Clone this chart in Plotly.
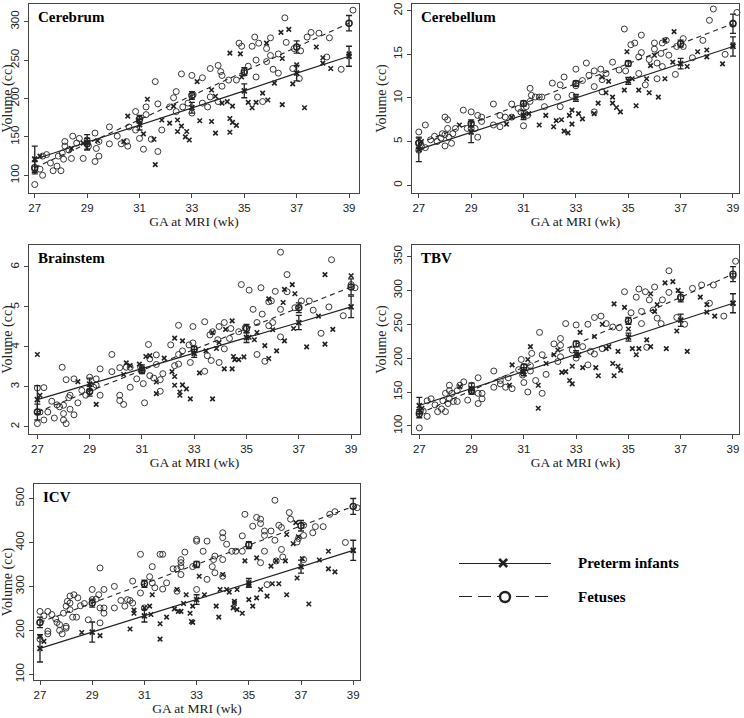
import plotly.graph_objects as go

# ---------------- data ----------------
weeks = [27, 29, 31, 33, 35, 37, 39]
x_ticks = [27, 29, 31, 33, 35, 37, 39]

# Cerebrum
cerebrum_fetus = [(27.0, 88), (27.0, 108), (27.2, 108), (27.3, 100), (27.3, 125), (27.45, 127), (27.6, 116),
    (27.7, 106), (27.85, 112), (27.9, 125), (28.0, 106), (28.05, 129), (28.15, 144), (28.15, 138), (28.1, 121),
    (28.3, 133), (28.4, 122), (28.45, 151), (28.6, 142), (28.7, 148), (28.85, 122), (29.0, 146), (29.05, 138),
    (29.3, 155), (29.3, 118), (29.35, 135), (29.45, 125), (29.45, 144), (29.85, 163), (29.85, 141), (30.15, 151),
    (30.3, 141), (30.5, 144), (30.55, 138), (30.6, 163), (30.85, 183), (30.85, 159), (31.0, 148), (31.15, 134),
    (31.25, 189), (31.25, 179), (31.45, 147), (31.6, 222), (31.7, 193), (31.7, 131), (31.85, 159), (32.15, 189),
    (32.3, 201), (32.4, 209), (32.4, 183), (32.6, 232), (32.65, 189), (32.85, 194), (33.0, 230), (33.0, 181),
    (33.05, 205), (33.4, 227), (33.4, 194), (33.6, 189), (33.7, 202), (33.7, 239), (34.0, 243), (34.0, 196),
    (34.1, 235), (34.15, 216), (34.15, 230), (34.4, 224), (34.7, 224), (34.8, 272), (34.9, 268), (35.0, 233),
    (35.15, 242), (35.3, 268), (35.4, 280), (35.45, 250), (35.55, 272), (35.45, 228), (35.7, 196), (35.85, 248),
    (35.85, 265), (36.0, 279), (36.0, 256), (36.1, 238), (36.3, 258), (36.3, 233), (36.55, 305), (36.6, 273),
    (36.85, 239), (36.9, 265), (37.1, 226), (37.15, 262), (37.4, 280), (37.55, 286), (37.85, 285), (38.15, 254),
    (38.25, 279), (38.7, 238), (39.15, 315), (39.0, 298)]
cerebrum_preterm = [(27.0, 121), (27.2, 125), (28.4, 135), (28.85, 142), (29.4, 145), (30.4, 144), (30.55, 177),
    (30.95, 172), (31.15, 154), (31.3, 199), (31.55, 147), (31.6, 114), (31.85, 172), (32.15, 168), (32.3, 190),
    (32.45, 172), (32.45, 157), (32.6, 164), (32.75, 150), (32.8, 157), (32.9, 146), (33.2, 222), (33.3, 171),
    (33.75, 211), (33.75, 170), (33.9, 203), (33.9, 155), (34.15, 194), (34.35, 196), (34.45, 259), (34.45, 174),
    (34.45, 156), (34.55, 190), (34.55, 169), (34.7, 165), (34.85, 258), (34.9, 228), (35.15, 195), (35.3, 188),
    (35.45, 195), (35.7, 207), (35.85, 272), (35.9, 198), (36.15, 220), (36.4, 286), (36.45, 252), (36.45, 192),
    (36.7, 290), (36.85, 219), (37.0, 244), (37.3, 188), (37.75, 267), (38.0, 246), (38.0, 253), (38.3, 239),
    (39.0, 258)]
cerebrum_preterm_fit = [121, 143, 166, 188, 210, 233, 255]
cerebrum_preterm_se = [17, 10, 7, 7, 9, 10, 13]
cerebrum_fetus_fit = [110, 141, 173, 204, 235, 267, 298]
cerebrum_fetus_se = [8, 7, 5, 5, 5, 8, 10]
cerebrum_y_ticks = [100, 150, 200, 250, 300]

# Cerebellum
cerebellum_fetus = [(27.0, 6.1), (27.0, 4.9), (27.0, 4.0), (27.1, 4.4), (27.25, 4.3), (27.25, 6.9), (27.45, 5.2),
    (27.6, 5.6), (27.7, 5.0), (27.85, 5.4), (27.9, 5.9), (28.0, 7.8), (28.0, 4.5), (28.0, 5.8), (28.1, 7.5),
    (28.1, 6.5), (28.15, 5.5), (28.25, 4.8), (28.3, 5.9), (28.4, 6.5), (28.7, 8.6), (28.85, 6.5), (29.0, 8.4),
    (29.0, 6.5), (29.15, 6.5), (29.25, 8.0), (29.25, 5.5), (29.4, 7.8), (29.4, 7.3), (29.85, 9.3), (29.85, 6.9),
    (30.1, 8.0), (30.1, 6.7), (30.3, 7.8), (30.55, 9.3), (30.55, 7.8), (30.8, 8.8), (30.9, 8.4), (31.0, 6.8),
    (31.1, 9.0), (31.15, 8.0), (31.25, 11.1), (31.25, 9.6), (31.3, 10.3), (31.45, 10.1), (31.6, 10.1),
    (31.7, 10.1), (31.8, 9.0), (32.1, 11.7), (32.3, 10.1), (32.4, 11.5), (32.4, 9.0), (32.55, 12.4),
    (32.85, 10.3), (33.0, 13.3), (33.0, 11.4), (33.25, 12.0), (33.4, 14.0), (33.5, 12.6), (33.7, 13.1),
    (33.7, 8.4), (33.7, 11.3), (33.95, 13.3), (34.0, 12.1), (34.0, 10.7), (34.15, 12.8), (34.4, 14.1),
    (34.65, 13.2), (34.85, 17.9), (34.9, 13.1), (35.1, 16.1), (35.25, 16.3), (35.4, 12.8), (35.4, 14.7),
    (35.5, 15.2), (35.5, 17.2), (35.65, 11.5), (35.8, 14.4), (36.0, 16.3), (36.0, 15.6), (36.1, 14.0),
    (36.1, 12.2), (36.25, 15.1), (36.3, 13.6), (36.3, 16.3), (36.45, 16.6), (36.55, 14.9), (36.8, 12.7),
    (36.85, 15.9), (37.1, 16.8), (37.1, 15.9), (37.45, 14.6), (37.85, 16.6), (38.1, 18.9), (38.25, 20.2),
    (38.7, 15.0), (39.0, 18.6), (39.15, 19.8)]
cerebellum_preterm = [(27.1, 5.0), (28.55, 6.9), (30.35, 7.0), (30.55, 7.8), (31.0, 7.9), (31.2, 8.2),
    (31.6, 6.9), (31.85, 8.0), (32.15, 6.7), (32.25, 7.4), (32.45, 7.5), (32.55, 6.2), (32.7, 6.0), (32.75, 8.0),
    (32.85, 7.0), (32.85, 8.6), (33.1, 8.2), (33.25, 7.6), (33.7, 8.2), (33.85, 9.4), (34.0, 12.4), (34.15, 10.6),
    (34.25, 11.9), (34.4, 10.1), (34.4, 9.4), (34.55, 8.9), (34.7, 8.4), (34.85, 10.9), (34.95, 15.3),
    (35.15, 12.2), (35.3, 9.1), (35.4, 10.9), (35.7, 12.2), (35.8, 10.6), (35.85, 13.7), (36.0, 14.9),
    (36.15, 10.1), (36.4, 16.6), (36.4, 12.2), (36.7, 14.1), (36.75, 17.6), (37.25, 13.6), (37.65, 15.3),
    (38.0, 15.5), (38.0, 14.7), (38.6, 13.9), (39.0, 16.1)]
cerebellum_preterm_fit = [4.1, 6.07, 8.03, 10.0, 11.96, 13.93, 15.9]
cerebellum_preterm_se = [1.4, 1.2, 0.5, 0.4, 0.4, 0.6, 1.1]
cerebellum_fetus_fit = [4.8, 7.08, 9.37, 11.65, 13.94, 16.22, 18.5]
cerebellum_fetus_se = [0.6, 0.4, 0.3, 0.3, 0.3, 0.4, 1.1]
cerebellum_y_ticks = [0, 5, 10, 15, 20]

# Brainstem
brainstem_fetus = [(27.0, 2.08), (27.0, 2.37), (27.0, 2.97), (27.1, 2.37), (27.25, 2.98), (27.25, 2.17),
    (27.4, 2.37), (27.55, 2.64), (27.65, 2.22), (27.75, 2.55), (27.85, 2.5), (27.95, 3.49), (28.0, 2.54),
    (28.0, 2.33), (28.0, 2.17), (28.1, 2.08), (28.1, 3.18), (28.2, 2.73), (28.25, 2.79), (28.25, 2.44),
    (28.4, 2.3), (28.4, 3.2), (28.55, 2.6), (28.7, 2.91), (28.85, 2.79), (29.0, 2.87), (29.0, 3.24),
    (29.15, 2.99), (29.25, 3.2), (29.25, 3.04), (29.4, 2.79), (29.4, 3.45), (29.85, 3.81), (29.85, 3.38),
    (30.15, 3.48), (30.15, 2.79), (30.15, 2.66), (30.3, 2.56), (30.4, 3.49), (30.55, 2.99), (30.55, 3.49),
    (30.8, 3.2), (30.95, 3.49), (31.05, 3.08), (31.1, 2.6), (31.25, 4.06), (31.3, 3.7), (31.3, 3.28),
    (31.45, 3.22), (31.55, 3.56), (31.55, 3.8), (31.7, 2.89), (31.7, 3.18), (31.8, 3.33), (32.1, 4.05),
    (32.25, 3.53), (32.4, 4.54), (32.4, 3.81), (32.4, 3.57), (32.55, 3.9), (32.8, 4.05), (32.85, 3.61),
    (32.95, 4.51), (32.95, 4.1), (33.4, 4.63), (33.4, 3.39), (33.5, 3.78), (33.6, 4.3), (33.65, 3.66),
    (33.7, 4.38), (33.9, 4.18), (33.95, 4.51), (33.95, 3.61), (34.15, 3.95), (34.15, 4.61), (34.35, 4.21),
    (34.4, 4.46), (34.7, 4.38), (34.8, 5.56), (34.95, 4.48), (35.1, 5.42), (35.25, 4.94), (35.4, 4.61),
    (35.4, 3.81), (35.55, 5.48), (35.6, 4.82), (35.7, 3.64), (35.85, 5.13), (35.85, 4.53), (35.95, 5.15),
    (36.0, 4.61), (36.1, 5.39), (36.3, 4.94), (36.3, 6.37), (36.3, 4.25), (36.55, 5.81), (36.55, 5.38),
    (36.85, 4.98), (37.1, 5.15), (37.4, 5.15), (37.55, 4.92), (37.85, 4.34), (38.15, 5.0), (38.25, 6.18),
    (38.7, 4.78), (39.0, 5.56), (39.15, 5.48)]
brainstem_preterm = [(27.0, 3.81), (27.1, 2.79), (28.55, 3.13), (29.25, 2.56), (30.3, 3.31), (30.4, 3.6),
    (30.55, 3.53), (30.9, 3.57), (31.15, 3.76), (31.3, 3.78), (31.55, 3.12), (31.55, 2.83), (31.85, 3.72),
    (32.15, 3.38), (32.25, 3.26), (32.25, 3.04), (32.25, 4.22), (32.45, 2.87), (32.45, 2.79), (32.55, 4.15),
    (32.55, 3.05), (32.7, 2.95), (32.85, 2.7), (33.2, 3.35), (33.45, 3.9), (33.7, 4.36), (33.7, 2.7),
    (33.85, 3.96), (33.95, 4.11), (34.15, 3.45), (34.2, 4.44), (34.45, 3.45), (34.45, 4.65), (34.5, 3.76),
    (34.55, 3.68), (34.7, 3.68), (34.9, 3.75), (35.1, 4.24), (35.3, 4.18), (35.4, 4.36), (35.7, 4.03),
    (35.85, 3.71), (35.85, 5.2), (36.0, 4.43), (36.15, 3.9), (36.4, 5.11), (36.45, 5.44), (36.45, 4.15),
    (36.75, 5.56), (36.8, 4.46), (36.85, 5.33), (37.3, 4.0), (37.75, 4.77), (38.0, 5.81), (38.0, 4.07),
    (38.3, 4.44), (39.0, 5.78)]
brainstem_preterm_fit = [2.68, 3.07, 3.45, 3.84, 4.23, 4.61, 5.0]
brainstem_preterm_se = [0.35, 0.15, 0.1, 0.1, 0.12, 0.18, 0.27]
brainstem_fetus_fit = [2.37, 2.89, 3.41, 3.94, 4.46, 4.98, 5.5]
brainstem_fetus_se = [0.2, 0.12, 0.08, 0.08, 0.1, 0.12, 0.2]
brainstem_y_ticks = [2, 3, 4, 5, 6]

# TBV
tbv_fetus = [(27.0, 97), (27.0, 121), (27.15, 122), (27.3, 114), (27.3, 137), (27.45, 140), (27.6, 131),
    (27.7, 121), (27.85, 125), (27.9, 137), (28.0, 148), (28.0, 121), (28.1, 133), (28.15, 160), (28.15, 152),
    (28.15, 140), (28.25, 148), (28.3, 136), (28.45, 136), (28.45, 152), (28.55, 160), (28.7, 165),
    (28.85, 138), (29.0, 160), (29.0, 152), (29.25, 171), (29.25, 148), (29.25, 133), (29.4, 148), (29.4, 140),
    (29.85, 181), (29.85, 157), (30.1, 167), (30.1, 162), (30.3, 157), (30.4, 171), (30.55, 155), (30.8, 183),
    (30.9, 198), (30.95, 175), (31.0, 164), (31.15, 150), (31.25, 181), (31.25, 189), (31.3, 207),
    (31.45, 167), (31.6, 238), (31.7, 148), (31.7, 205), (31.85, 176), (32.15, 221), (32.3, 195), (32.4, 229),
    (32.4, 202), (32.4, 219), (32.6, 251), (32.85, 212), (33.0, 249), (33.0, 200), (33.25, 217), (33.45, 250),
    (33.45, 190), (33.55, 210), (33.7, 260), (33.7, 206), (33.95, 262), (34.0, 214), (34.15, 251), (34.4, 246),
    (34.65, 245), (34.85, 298), (35.1, 267), (35.3, 290), (35.4, 302), (35.5, 269), (35.5, 251), (35.65, 298),
    (35.7, 216), (35.8, 286), (35.95, 271), (36.0, 305), (36.1, 259), (36.25, 251), (36.3, 286), (36.55, 329),
    (36.55, 297), (36.85, 260), (37.0, 288), (37.15, 250), (37.45, 303), (37.8, 308), (38.25, 308),
    (38.1, 281), (38.65, 262), (39.0, 321), (39.1, 343)]
tbv_preterm = [(27.1, 126), (28.55, 158), (30.45, 160), (30.55, 190), (30.95, 179), (31.15, 198), (31.25, 217),
    (31.55, 160), (31.55, 126), (31.85, 192), (32.15, 205), (32.3, 212), (32.45, 179), (32.6, 180),
    (32.75, 167), (32.85, 162), (32.85, 188), (33.1, 205), (33.15, 238), (33.25, 186), (33.7, 232),
    (33.75, 186), (33.85, 174), (34.0, 250), (34.15, 214), (34.25, 217), (34.4, 192), (34.45, 174),
    (34.45, 280), (34.6, 210), (34.6, 188), (34.7, 182), (34.85, 275), (35.0, 243), (35.15, 214), (35.3, 205),
    (35.4, 214), (35.7, 227), (35.85, 217), (35.85, 295), (36.0, 269), (36.1, 279), (36.4, 311), (36.45, 214),
    (36.7, 313), (36.85, 240), (36.9, 300), (37.25, 210), (37.75, 290), (38.0, 279), (38.0, 268), (38.3, 262),
    (39.0, 281)]
tbv_preterm_fit = [130, 155, 180, 206, 231, 256, 281]
tbv_preterm_se = [12, 8, 6, 5, 6, 9, 14]
tbv_fetus_fit = [118, 152, 187, 221, 255, 290, 324]
tbv_fetus_se = [6, 5, 4, 4, 5, 7, 11]
tbv_y_ticks = [100, 150, 200, 250, 300, 350]

# ICV
icv_fetus = [(27.0, 243), (27.0, 218), (27.0, 180), (27.15, 233), (27.3, 243), (27.3, 198), (27.3, 192),
    (27.45, 236), (27.6, 226), (27.65, 218), (27.75, 213), (27.75, 200), (27.85, 192), (27.9, 239), (28.0, 255),
    (28.0, 209), (28.0, 205), (28.05, 266), (28.15, 278), (28.15, 262), (28.15, 247), (28.25, 230), (28.3, 281),
    (28.4, 230), (28.45, 274), (28.55, 256), (28.7, 261), (28.85, 224), (29.0, 293), (29.0, 270), (29.15, 271),
    (29.25, 281), (29.3, 342), (29.3, 251), (29.3, 217), (29.45, 293), (29.45, 251), (29.45, 239), (29.85, 300),
    (29.85, 251), (30.1, 268), (30.25, 255), (30.35, 270), (30.45, 268), (30.55, 312), (30.55, 262),
    (30.85, 373), (30.85, 285), (31.0, 251), (31.2, 322), (31.3, 345), (31.3, 308), (31.4, 297), (31.6, 373),
    (31.7, 373), (31.7, 294), (31.85, 308), (32.1, 340), (32.25, 340), (32.25, 289), (32.4, 361), (32.4, 354),
    (32.4, 345), (32.4, 327), (32.55, 378), (32.85, 345), (33.0, 407), (33.0, 403), (33.0, 293), (33.25, 380),
    (33.4, 403), (33.4, 316), (33.6, 345), (33.65, 361), (33.7, 369), (33.7, 331), (34.0, 422), (34.0, 411),
    (34.0, 361), (34.0, 323), (34.15, 396), (34.35, 380), (34.5, 380), (34.75, 415), (34.75, 380),
    (34.85, 464), (35.0, 396), (35.15, 437), (35.3, 457), (35.45, 453), (35.45, 443), (35.45, 354),
    (35.6, 380), (35.6, 426), (35.6, 416), (35.7, 304), (35.85, 426), (36.0, 496), (36.0, 405), (36.05, 358),
    (36.15, 439), (36.25, 434), (36.25, 384), (36.3, 367), (36.55, 468), (36.6, 453), (36.85, 401),
    (36.9, 409), (37.1, 439), (37.1, 416), (37.1, 361), (37.45, 422), (37.55, 436), (37.85, 436),
    (38.1, 464), (38.3, 470), (38.7, 400), (39.0, 482), (39.15, 479)]
icv_preterm = [(27.0, 186), (27.15, 175), (28.6, 195), (29.3, 188), (30.45, 203), (30.6, 246), (30.6, 239),
    (31.0, 251), (31.2, 255), (31.25, 236), (31.3, 281), (31.6, 215), (31.6, 180), (31.85, 230), (32.15, 249),
    (32.25, 293), (32.3, 243), (32.4, 243), (32.5, 261), (32.6, 281), (32.75, 239), (32.8, 220), (32.85, 218),
    (32.85, 255), (33.1, 323), (33.3, 281), (33.75, 255), (33.85, 230), (33.9, 293), (34.0, 327), (34.15, 293),
    (34.25, 287), (34.4, 251), (34.45, 266), (34.45, 261), (34.55, 247), (34.55, 293), (34.75, 239),
    (34.85, 358), (35.0, 304), (35.0, 270), (35.15, 255), (35.3, 365), (35.3, 274), (35.45, 293), (35.7, 278),
    (35.85, 346), (35.9, 306), (36.05, 358), (36.15, 306), (36.4, 358), (36.45, 281), (36.45, 418),
    (36.7, 397), (36.8, 445), (36.85, 319), (36.9, 413), (37.05, 363), (37.3, 260), (37.7, 360), (38.05, 380),
    (38.05, 340), (38.3, 333), (39.0, 382)]
icv_preterm_fit = [159, 196, 233, 270, 308, 345, 382]
icv_preterm_se = [31, 23, 14, 11, 10, 15, 23]
icv_fetus_fit = [218, 262, 306, 350, 394, 438, 482]
icv_fetus_se = [12, 9, 8, 7, 8, 12, 18]
icv_y_ticks = [100, 200, 300, 400, 500]

legend_labels = ["Preterm infants", "Fetuses"]

# ---------------- layout geometry (pixels) ----------------
W, H = 744, 718
panels = [
    dict(name="Cerebrum", fet=cerebrum_fetus, pt=cerebrum_preterm,
         ptfit=cerebrum_preterm_fit, ptse=cerebrum_preterm_se, fetfit=cerebrum_fetus_fit, fetse=cerebrum_fetus_se,
         yt=cerebrum_y_ticks, box=(29, 359, 4, 193), xr=(26.78, 39.38), yr=(77, 323)),
    dict(name="Cerebellum", fet=cerebellum_fetus, pt=cerebellum_preterm,
         ptfit=cerebellum_preterm_fit, ptse=cerebellum_preterm_se, fetfit=cerebellum_fetus_fit,
         fetse=cerebellum_fetus_se,
         yt=cerebellum_y_ticks, box=(412, 739, 4, 193), xr=(26.74, 39.23), yr=(-0.9, 20.77)),
    dict(name="Brainstem", fet=brainstem_fetus, pt=brainstem_preterm,
         ptfit=brainstem_preterm_fit, ptse=brainstem_preterm_se, fetfit=brainstem_fetus_fit,
         fetse=brainstem_fetus_se,
         yt=brainstem_y_ticks, box=(29, 360, 245, 434), xr=(26.68, 39.34), yr=(1.82, 6.55)),
    dict(name="TBV", fet=tbv_fetus, pt=tbv_preterm,
         ptfit=tbv_preterm_fit, ptse=tbv_preterm_se, fetfit=tbv_fetus_fit, fetse=tbv_fetus_se,
         yt=tbv_y_ticks, box=(412, 739, 245, 434), xr=(26.72, 39.23), yr=(88, 367)),
    dict(name="ICV", fet=icv_fetus, pt=icv_preterm,
         ptfit=icv_preterm_fit, ptse=icv_preterm_se, fetfit=icv_fetus_fit, fetse=icv_fetus_se,
         yt=icv_y_ticks, box=(34, 360, 484, 680), xr=(26.77, 39.26), yr=(87, 533)),
]

INK = "#222222"
SANS = "Liberation Sans, Arial, sans-serif"
SERIF = "Liberation Serif, Times New Roman, serif"

fig = go.Figure()
layout = dict(
    width=W, height=H, margin=dict(l=0, r=0, t=0, b=0, pad=0, autoexpand=False),
    paper_bgcolor="white", plot_bgcolor="white", showlegend=False, hovermode=False,
    annotations=[],
)

for i, p in enumerate(panels, start=1):
    xa = "x" if i == 1 else f"x{i}"
    ya = "y" if i == 1 else f"y{i}"
    x0, x1, y0, y1 = p["box"]
    xdom = [x0 / W, x1 / W]
    ydom = [1 - y1 / H, 1 - y0 / H]
    axis_common = dict(showgrid=False, zeroline=False, showline=True, mirror=True, automargin=False,
                       linecolor="#444", linewidth=1, ticks="outside", ticklen=4,
                       tickcolor="#444", tickwidth=1,
                       tickfont=dict(family=SANS, size=11.5, color=INK))
    layout["xaxis" if i == 1 else f"xaxis{i}"] = dict(
        axis_common, domain=xdom, range=list(p["xr"]), anchor=ya,
        tickmode="array", tickvals=x_ticks, ticktext=[str(t) for t in x_ticks],
        title=dict(text="GA at MRI (wk)", font=dict(family=SERIF, size=13.5, color=INK), standoff=2))
    layout["yaxis" if i == 1 else f"yaxis{i}"] = dict(
        axis_common, domain=ydom, range=list(p["yr"]), anchor=xa,
        tickmode="array", tickvals=p["yt"], ticktext=[str(t) for t in p["yt"]], tickangle=-90,
        title=dict(text="Volume (cc)", font=dict(family=SERIF, size=14, color=INK), standoff=2))

    fx = [a for a, b in p["fet"]]
    fy = [b for a, b in p["fet"]]
    px_ = [a for a, b in p["pt"]]
    py_ = [b for a, b in p["pt"]]
    fig.add_trace(go.Scatter(x=fx, y=fy, mode="markers", xaxis=xa, yaxis=ya, cliponaxis=False,
                             marker=dict(symbol="circle-open", size=6, color=INK, line=dict(width=0.9, color=INK))))
    fig.add_trace(go.Scatter(x=px_, y=py_, mode="markers", xaxis=xa, yaxis=ya, cliponaxis=False,
                             marker=dict(symbol="x-thin-open", size=4.5, color=INK, line=dict(width=1.6, color=INK))))
    # fitted lines
    fig.add_trace(go.Scatter(x=weeks, y=p["ptfit"], mode="lines", xaxis=xa, yaxis=ya,
                             line=dict(color=INK, width=1.2)))
    fig.add_trace(go.Scatter(x=weeks, y=p["fetfit"], mode="lines", xaxis=xa, yaxis=ya,
                             line=dict(color=INK, width=1.1, dash="5px,4px")))
    # fitted markers with error bars
    fig.add_trace(go.Scatter(x=weeks, y=p["ptfit"], mode="markers", xaxis=xa, yaxis=ya, cliponaxis=False,
                             marker=dict(symbol="x-thin-open", size=5, color=INK, line=dict(width=1.8, color=INK)),
                             error_y=dict(type="data", array=p["ptse"], color=INK, thickness=1.3, width=3)))
    fig.add_trace(go.Scatter(x=weeks, y=p["fetfit"], mode="markers", xaxis=xa, yaxis=ya, cliponaxis=False,
                             marker=dict(symbol="circle-open", size=6, color=INK, line=dict(width=1.4, color=INK)),
                             error_y=dict(type="data", array=p["fetse"], color=INK, thickness=1.3, width=3)))
    layout["annotations"].append(dict(
        text=f"<b>{p['name']}</b>", xref=f"{xa} domain", yref=f"{ya} domain", x=0.02, y=0.985,
        xanchor="left", yanchor="top", showarrow=False,
        font=dict(family=SERIF, size=15, color="black")))

# ---------------- legend (own hidden axes) ----------------
layout["xaxis6"] = dict(domain=[459 / W, 551 / W], range=[0, 1], visible=False, anchor="y6")
layout["yaxis6"] = dict(domain=[1 - 597 / H, 1 - 563 / H], range=[0, 1], visible=False, anchor="x6")
fig.add_trace(go.Scatter(x=[0, 1], y=[1, 1], mode="lines", xaxis="x6", yaxis="y6", cliponaxis=False,
                         line=dict(color=INK, width=2.2)))
fig.add_trace(go.Scatter(x=[0.48], y=[1], mode="markers", xaxis="x6", yaxis="y6", cliponaxis=False,
                         marker=dict(symbol="x-thin-open", size=8, color=INK, line=dict(width=2.6, color=INK))))
fig.add_trace(go.Scatter(x=[0, 1], y=[0, 0], mode="lines", xaxis="x6", yaxis="y6", cliponaxis=False,
                         line=dict(color=INK, width=2.2, dash="13px,6px")))
fig.add_trace(go.Scatter(x=[0.5], y=[0], mode="markers", xaxis="x6", yaxis="y6", cliponaxis=False,
                         marker=dict(symbol="circle", size=10, color="white", line=dict(width=2.4, color=INK))))
for lbl, yy in zip(legend_labels, [563, 597]):
    layout["annotations"].append(dict(
        text=f"<b>{lbl}</b>", xref="paper", yref="paper", x=576 / W, y=1 - yy / H,
        xanchor="left", yanchor="middle", showarrow=False,
        font=dict(family=SERIF, size=15, color="black")))

fig.update_layout(**layout)
fig.write_html("out.html", config={"displayModeBar": False, "staticPlot": True},
               post_script="document.body.style.margin='0';document.body.style.overflow='hidden';")
